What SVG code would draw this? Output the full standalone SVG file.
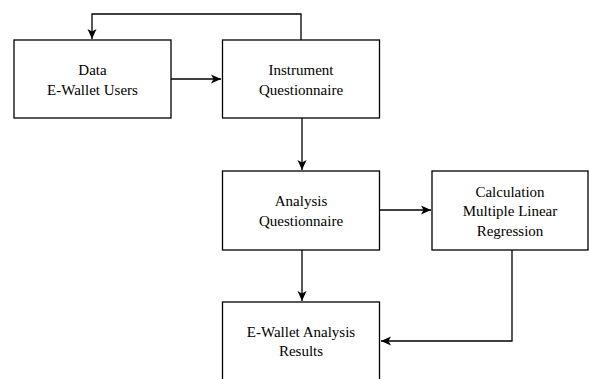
<svg xmlns="http://www.w3.org/2000/svg" width="589" height="379" viewBox="0 0 589 379">
<style>
.box{fill:#fff;stroke:#000;stroke-width:1.3}
.lbl{font-family:"Liberation Serif","Times New Roman",serif;font-size:15px;fill:#000;text-anchor:middle}
.edge{fill:none;stroke:#000;stroke-width:1.3}
</style>
<defs>
<marker id="ah" viewBox="0 0 10 10" refX="10" refY="5" markerWidth="10" markerHeight="10" markerUnits="userSpaceOnUse" orient="auto">
<path d="M0,0.5 L10,5 L0,9.5 L2.5,5 Z" fill="#000"/>
</marker>
</defs>
<rect width="589" height="379" fill="#fff"/>
<g id="edges">
<path class="edge" d="M171,79 H221" marker-end="url(#ah)"/>
<path class="edge" d="M301,40 V14 H92 V39" marker-end="url(#ah)"/>
<path class="edge" d="M302,118 V170" marker-end="url(#ah)"/>
<path class="edge" d="M380,210 H431" marker-end="url(#ah)"/>
<path class="edge" d="M302,250 V301" marker-end="url(#ah)"/>
<path class="edge" d="M512,250 V341 H381" marker-end="url(#ah)"/>
</g>
<g id="data">
<rect class="box" x="14" y="40" width="157" height="78"/>
<text class="lbl" x="92.5" y="75">Data</text>
<text class="lbl" x="92.5" y="94.5">E-Wallet Users</text>
</g>
<g id="instrument">
<rect class="box" x="222.5" y="40" width="157" height="78"/>
<text class="lbl" x="301" y="75">Instrument</text>
<text class="lbl" x="301" y="94.5">Questionnaire</text>
</g>
<g id="analysis">
<rect class="box" x="222.5" y="171" width="157" height="79"/>
<text class="lbl" x="301" y="206">Analysis</text>
<text class="lbl" x="301" y="225.5">Questionnaire</text>
</g>
<g id="calculation">
<rect class="box" x="432" y="171" width="156" height="79"/>
<text class="lbl" x="510" y="196.5">Calculation</text>
<text class="lbl" x="510" y="216">Multiple Linear</text>
<text class="lbl" x="510" y="235.5">Regression</text>
</g>
<g id="results">
<rect class="box" x="222.5" y="302" width="157" height="78"/>
<text class="lbl" x="301" y="336.5">E-Wallet Analysis</text>
<text class="lbl" x="301" y="356">Results</text>
</g>
</svg>
